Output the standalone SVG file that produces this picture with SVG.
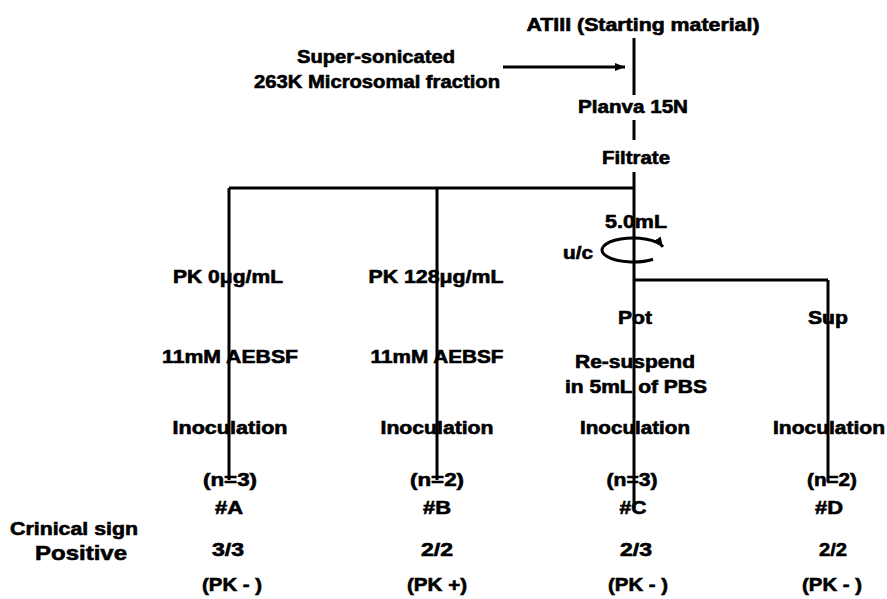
<svg xmlns="http://www.w3.org/2000/svg" width="887" height="599" viewBox="0 0 887 599">
<style>
.t{font-family:"Liberation Sans",Arial,sans-serif;font-weight:bold;font-size:18px;text-anchor:middle;fill:#000;stroke:#000;stroke-width:0.6}
.big{font-size:21px}
.ln{stroke:#000;stroke-width:3;fill:none}
</style>
<defs>
<marker id="ah" viewBox="0 0 10 8" refX="10" refY="4" markerWidth="10" markerHeight="8" markerUnits="userSpaceOnUse" orient="auto">
<path d="M0,0 L10,4 L0,8 Z" fill="#000"/>
</marker>
</defs>
<rect width="887" height="599" fill="#fff"/>
<g id="n-atiii"><text class="t" x="643" y="31" textLength="233" lengthAdjust="spacingAndGlyphs">ATIII (Starting material)</text></g>
<g id="n-micro"><text class="t" x="376" y="63" textLength="158" lengthAdjust="spacingAndGlyphs">Super-sonicated</text><text class="t" x="377" y="88" textLength="246" lengthAdjust="spacingAndGlyphs">263K Microsomal fraction</text></g>
<g id="n-planva"><text class="t" x="633" y="113" textLength="110" lengthAdjust="spacingAndGlyphs">Planva 15N</text></g>
<g id="n-filtrate"><text class="t" x="636" y="164" textLength="68" lengthAdjust="spacingAndGlyphs">Filtrate</text></g>
<g id="n-uc"><text class="t" x="636" y="228" textLength="62" lengthAdjust="spacingAndGlyphs">5.0mL</text><text class="t" x="578" y="259" textLength="30" lengthAdjust="spacingAndGlyphs">u/c</text></g>
<g id="n-a">
<text class="t" x="228" y="283" textLength="110" lengthAdjust="spacingAndGlyphs">PK 0μg/mL</text>
<text class="t" x="230" y="363" textLength="136" lengthAdjust="spacingAndGlyphs">11mM AEBSF</text>
<text class="t" x="230" y="434" textLength="115" lengthAdjust="spacingAndGlyphs">Inoculation</text>
<text class="t" x="230" y="486" textLength="54" lengthAdjust="spacingAndGlyphs">(n=3)</text>
<text class="t" x="229" y="514" textLength="28" lengthAdjust="spacingAndGlyphs">#A</text>
<text class="t" x="228" y="556" textLength="32" lengthAdjust="spacingAndGlyphs">3/3</text>
<text class="t" x="232" y="591" textLength="60" lengthAdjust="spacingAndGlyphs">(PK - )</text>
</g>
<g id="n-b">
<text class="t" x="436" y="283" textLength="135" lengthAdjust="spacingAndGlyphs">PK 128μg/mL</text>
<text class="t" x="437" y="363" textLength="133" lengthAdjust="spacingAndGlyphs">11mM AEBSF</text>
<text class="t" x="437" y="434" textLength="113" lengthAdjust="spacingAndGlyphs">Inoculation</text>
<text class="t" x="437" y="486" textLength="54" lengthAdjust="spacingAndGlyphs">(n=2)</text>
<text class="t" x="437" y="514" textLength="28" lengthAdjust="spacingAndGlyphs">#B</text>
<text class="t" x="437" y="556" textLength="32" lengthAdjust="spacingAndGlyphs">2/2</text>
<text class="t" x="437" y="591" textLength="60" lengthAdjust="spacingAndGlyphs">(PK +)</text>
</g>
<g id="n-c">
<text class="t" x="635" y="324" textLength="34" lengthAdjust="spacingAndGlyphs">Pot</text>
<text class="t" x="635" y="368" textLength="120" lengthAdjust="spacingAndGlyphs">Re-suspend</text>
<text class="t" x="636" y="393" textLength="142" lengthAdjust="spacingAndGlyphs">in 5mL of PBS</text>
<text class="t" x="635" y="434" textLength="110" lengthAdjust="spacingAndGlyphs">Inoculation</text>
<text class="t" x="632" y="486" textLength="51" lengthAdjust="spacingAndGlyphs">(n=3)</text>
<text class="t" x="633" y="514" textLength="27" lengthAdjust="spacingAndGlyphs">#C</text>
<text class="t" x="636" y="556" textLength="32" lengthAdjust="spacingAndGlyphs">2/3</text>
<text class="t" x="638" y="591" textLength="60" lengthAdjust="spacingAndGlyphs">(PK - )</text>
</g>
<g id="n-d">
<text class="t" x="828" y="324" textLength="40" lengthAdjust="spacingAndGlyphs">Sup</text>
<text class="t" x="829" y="434" textLength="112" lengthAdjust="spacingAndGlyphs">Inoculation</text>
<text class="t" x="832" y="486" textLength="50" lengthAdjust="spacingAndGlyphs">(n=2)</text>
<text class="t" x="829" y="514" textLength="28" lengthAdjust="spacingAndGlyphs">#D</text>
<text class="t" x="833" y="556" textLength="28" lengthAdjust="spacingAndGlyphs">2/2</text>
<text class="t" x="832" y="591" textLength="60" lengthAdjust="spacingAndGlyphs">(PK - )</text>
</g>
<g id="n-legend">
<text class="t" x="74" y="535" textLength="128" lengthAdjust="spacingAndGlyphs">Crinical sign</text>
<text class="t big" x="81" y="560" textLength="92" lengthAdjust="spacingAndGlyphs">Positive</text>
</g>
<g id="connectors">
<line class="ln" x1="503" y1="67" x2="625" y2="67" marker-end="url(#ah)"/>
<line class="ln" x1="634" y1="38" x2="634" y2="95"/>
<line class="ln" x1="634" y1="120" x2="634" y2="140"/>
<line class="ln" x1="634" y1="172" x2="634" y2="508"/>
<line class="ln" x1="229" y1="188" x2="634" y2="188"/>
<line class="ln" x1="229" y1="188" x2="229" y2="480"/>
<line class="ln" x1="437" y1="188" x2="437" y2="480"/>
<line class="ln" x1="634" y1="280" x2="828" y2="280"/>
<line class="ln" x1="828" y1="280" x2="828" y2="482"/>
<path class="ln" d="M653 259.2 A31 12 0 1 1 663 246.9" marker-end="url(#ah)"/>
</g>
</svg>
